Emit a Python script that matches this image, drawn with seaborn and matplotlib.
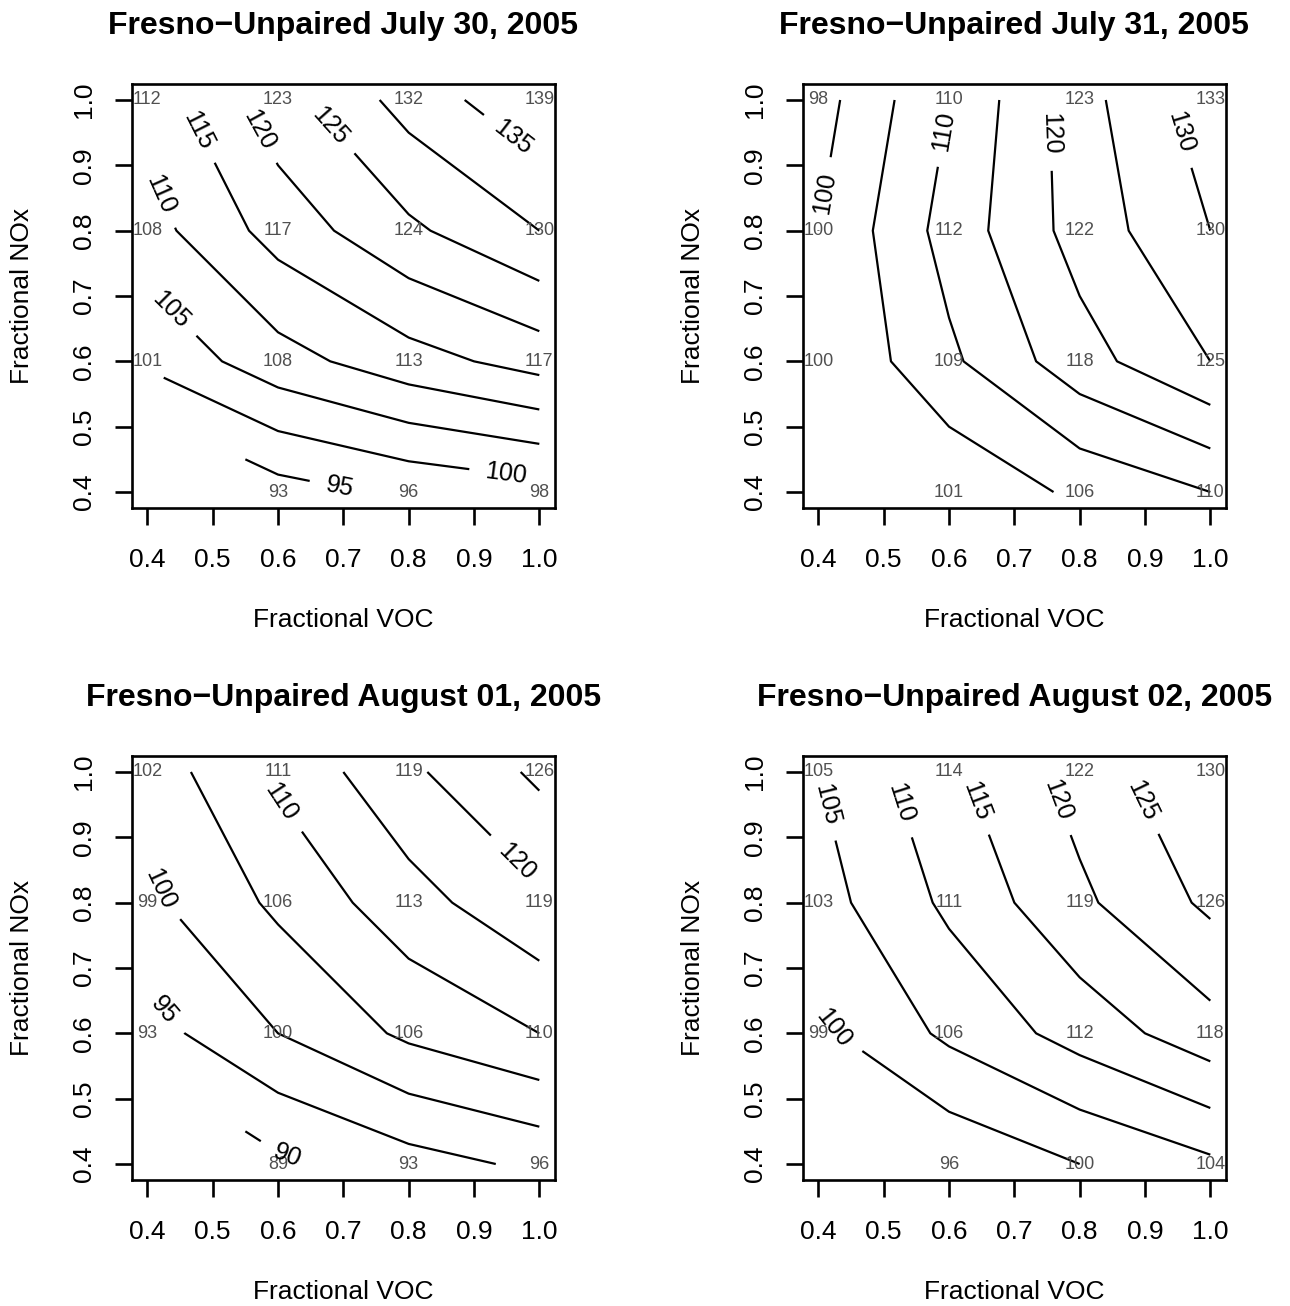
import numpy as np
import matplotlib
matplotlib.use("Agg")
import matplotlib.pyplot as plt
import seaborn as sns

# ---------------- data ----------------
voc = [0.4, 0.6, 0.8, 1.0]          # Fractional VOC (x)
nox = [0.4, 0.6, 0.8, 1.0]          # Fractional NOx (y)
ticks = [0.4, 0.5, 0.6, 0.7, 0.8, 0.9, 1.0]
tick_labels = ["0.4", "0.5", "0.6", "0.7", "0.8", "0.9", "1.0"]

titles = ["Fresno\u2212Unpaired July 30, 2005",
          "Fresno\u2212Unpaired July 31, 2005",
          "Fresno\u2212Unpaired August 01, 2005",
          "Fresno\u2212Unpaired August 02, 2005"]

# rows: NOx 0.4 -> 1.0 ; columns: VOC 0.4 -> 1.0 ; None = no value
jul30 = [[None, 93, 96, 98],
         [101, 108, 113, 117],
         [108, 117, 124, 130],
         [112, 123, 132, 139]]
jul31 = [[None, 101, 106, 110],
         [100, 109, 118, 125],
         [100, 112, 122, 130],
         [98, 110, 123, 133]]
aug01 = [[None, 89, 93, 96],
         [93, 100, 106, 110],
         [99, 106, 113, 119],
         [102, 111, 119, 126]]
aug02 = [[None, 96, 100, 104],
         [99, 106, 112, 118],
         [103, 111, 119, 126],
         [105, 114, 122, 130]]
panels = [jul30, jul31, aug01, aug02]

levels = [85, 90, 95, 100, 105, 110, 115, 120, 125, 130, 135, 140]

# where the contour labels sit (data coords)
label_spots = [
    [(0.478, 0.953), (0.570, 0.953), (0.680, 0.961), (0.958, 0.940),
     (0.420, 0.855), (0.431, 0.675), (0.949, 0.428), (0.694, 0.407)],
    [(0.413, 0.856), (0.587, 0.953), (0.754, 0.948), (0.957, 0.951)],
    [(0.612, 0.959), (0.963, 0.860), (0.430, 0.826), (0.425, 0.635),
     (0.616, 0.417)],
    [(0.413, 0.950), (0.531, 0.954), (0.645, 0.957), (0.768, 0.957),
     (0.898, 0.957), (0.436, 0.615)],
]

# ---------------- style ----------------
sns.set_style("ticks")
plt.rcParams['font.family'] = ['Liberation Sans', 'DejaVu Sans']
plt.rcParams['axes.linewidth'] = 1.9
plt.rcParams['text.color'] = 'black'
plt.rcParams['axes.labelcolor'] = 'black'

W, H = 1290, 1306
fig = plt.figure(figsize=(W / 100, H / 100), dpi=100)

ax_w, ax_h = 423.3, 423.4
lefts = [131.7, 802.7, 131.7, 802.7]
tops = [84.3, 84.3, 756.3, 756.3]

# like R: a corner exactly on a level counts as slightly above it
draw_levels = [lv - 1e-6 for lv in levels]

for p in range(4):
    ax = fig.add_axes([lefts[p] / W, 1 - (tops[p] + ax_h) / H, ax_w / W, ax_h / H])
    Z = np.ma.masked_invalid(np.array(
        [[np.nan if v is None else v for v in row] for row in panels[p]], dtype=float))
    cs = ax.contour(voc, nox, Z, levels=draw_levels, colors='black',
                    linewidths=1.6, corner_mask=True)
    ax.clabel(cs, manual=label_spots[p], inline=True, fontsize=18,
              fmt=lambda v: f"{int(round(v))}", inline_spacing=19)
    for i, yv in enumerate(nox):
        for j, xv in enumerate(voc):
            v = panels[p][i][j]
            if v is None:
                continue
            ax.text(xv, yv, f"{v}", ha='center', va='center', fontsize=13,
                    color='#505050', clip_on=True)
    ax.set_xlim(0.376, 1.024)
    ax.set_ylim(0.376, 1.024)
    ax.set_xticks(ticks)
    ax.set_xticklabels(tick_labels)
    ax.set_yticks(ticks)
    ax.set_yticklabels(tick_labels, rotation=90, va='center')
    ax.tick_params(direction='out', length=12, width=1.9, labelsize=19,
                   color='black', labelcolor='black')
    ax.tick_params(axis='x', pad=17)
    ax.tick_params(axis='y', pad=14)
    for s in ax.spines.values():
        s.set_visible(True)
        s.set_color('black')
    ax.set_xlabel("Fractional VOC", fontsize=19, color='black')
    ax.set_ylabel("Fractional NOx", fontsize=19, color='black')
    ax.xaxis.set_label_coords(0.5, -112 / ax_h)
    ax.xaxis.label.set_va('center')
    ax.yaxis.set_label_coords(-110 / ax_w, 0.5)
    ax.yaxis.label.set_va('center')
    ax.set_title(titles[p], fontsize=23, fontweight='bold', pad=36, color='black')

fig.savefig("out.png", dpi=100, facecolor='white')
